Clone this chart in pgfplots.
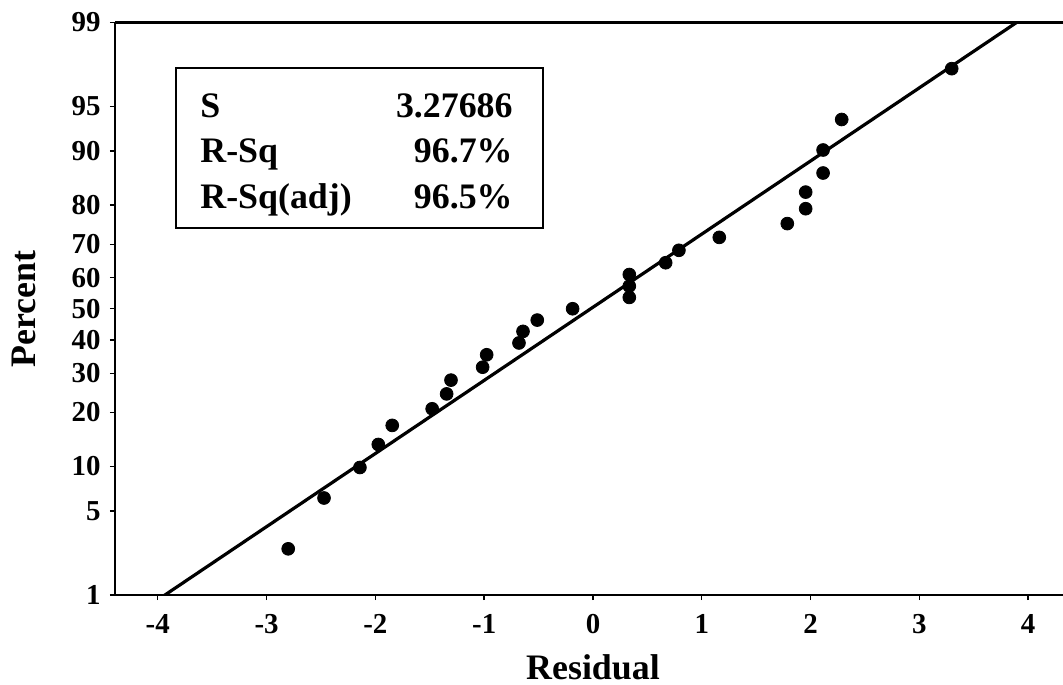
\documentclass[border=0pt]{standalone}
\usepackage{fontspec}
\setmainfont{Liberation Serif}
\usepackage{pgfplots}
\pgfplotsset{compat=1.18}
\begin{document}
\begin{tikzpicture}
\begin{axis}[
  scale only axis, width=474bp, height=286.25bp,
  xmin=-4.393, xmax=4.320, ymin=-2.3263, ymax=2.3263,
  axis x line*=bottom, axis y line*=left,
  axis line style={line width=1.1bp, black},
  xtick={-4,-3,-2,-1,0,1,2,3,4},
  xticklabels={-4,-3,-2,-1,0,1,2,3,4},
  ytick={-2.3263,-1.6449,-1.2816,-0.8416,-0.5244,-0.2533,0,0.2533,0.5244,0.8416,1.2816,1.6449,2.3263},
  yticklabels={1,5,10,20,30,40,50,60,70,80,90,95,99},
  tick align=outside, major tick length=2.5bp,
  tick style={line width=0.7bp, black},
  tick label style={font=\bfseries\fontsize{14.5}{14.5}\selectfont},
  xticklabel style={yshift=-3.5bp},
  yticklabel style={xshift=-1.2bp},
  xlabel={Residual}, ylabel={Percent},
  label style={font=\bfseries\fontsize{18}{18}\selectfont},
  xlabel style={at={(axis description cs:0.5,0)}, anchor=center, yshift=-36bp, xshift=2bp},
  ylabel style={at={(axis description cs:-0.0965,0.5)}, anchor=center},
]
\addplot[black, line width=1.6bp] coordinates {(-4.393,-2.599) (4.320,2.580)};
\addplot[only marks, mark=*, mark size=3.2bp, black] coordinates {
(-2.801,-1.951)
(-2.472,-1.538)
(-2.142,-1.290)
(-1.973,-1.103)
(-1.845,-0.948)
(-1.478,-0.813)
(-1.345,-0.692)
(-1.305,-0.580)
(-1.014,-0.475)
(-0.977,-0.374)
(-0.680,-0.278)
(-0.643,-0.184)
(-0.512,-0.092)
(-0.187,0)
(0.334,0.092)
(0.334,0.184)
(0.334,0.278)
(0.668,0.374)
(0.790,0.475)
(1.161,0.580)
(1.786,0.692)
(1.955,0.813)
(1.955,0.948)
(2.115,1.103)
(2.115,1.290)
(2.286,1.538)
(3.297,1.951)
};
\coordinate (LL) at (rel axis cs:0,0);
\coordinate (UL) at (rel axis cs:0,1);
\coordinate (UR) at (rel axis cs:1,1);
\coordinate (B1) at (axis cs:-3.833,0.6563);
\coordinate (B2) at (axis cs:-0.460,1.9565);
\coordinate (T1) at (axis cs:-3.612,1.5581);
\coordinate (T2) at (axis cs:-3.612,1.1924);
\coordinate (T3) at (axis cs:-3.612,0.8186);
\coordinate (V1) at (axis cs:-0.735,1.5581);
\coordinate (V2) at (axis cs:-0.735,1.1924);
\coordinate (V3) at (axis cs:-0.735,0.8186);
\end{axis}
\draw[line width=1.1bp, black] (UL) -- (UR);
\draw[line width=0.7bp, black] (B1) rectangle (B2);
\begin{scope}[every node/.style={inner sep=0pt, font=\bfseries\fontsize{18}{18}\selectfont}]
\node[anchor=base west] at (T1) {S};
\node[anchor=base west] at (T2) {R-Sq};
\node[anchor=base west] at (T3) {R-Sq(adj)};
\node[anchor=base east] at (V1) {3.27686};
\node[anchor=base east] at (V2) {96.7\%};
\node[anchor=base east] at (V3) {96.5\%};
\end{scope}
\pgfresetboundingbox
\path[use as bounding box] ([shift={(-57.5bp,-45bp)}]LL) rectangle ([shift={(0bp,11.25bp)}]UR);
\end{tikzpicture}
\end{document}
